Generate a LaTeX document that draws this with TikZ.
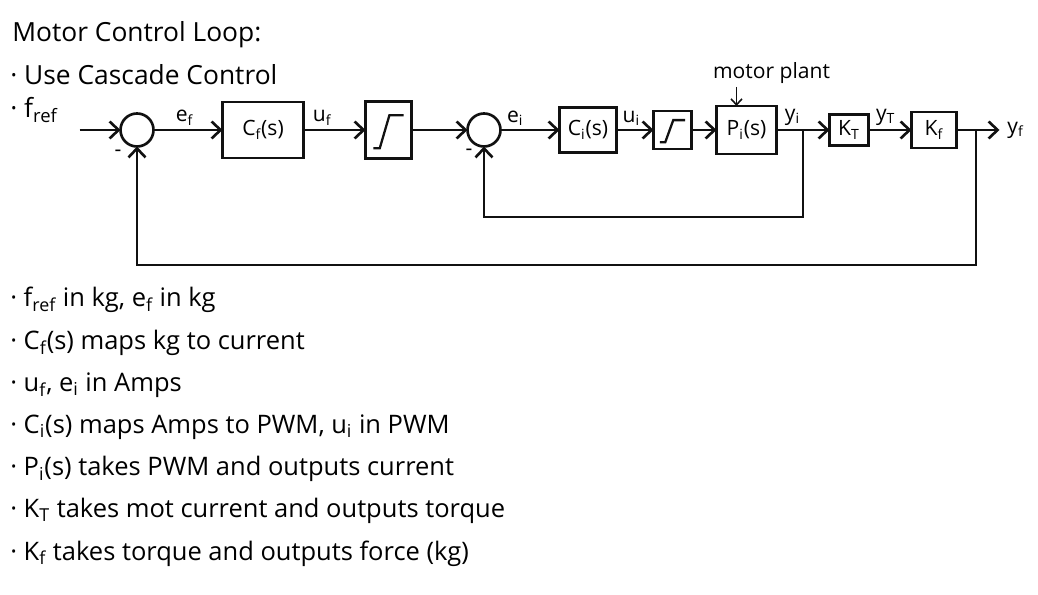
\documentclass[tikz,border=0pt]{standalone}
\usepackage{fontspec}
\setmainfont{Open Sans}
\usetikzlibrary{arrows.meta, positioning, calc}
\definecolor{InkBlack}{HTML}{111111}
\tikzset{
  block/.style={draw=InkBlack, line width=1.5pt, align=center, inner sep=2pt, outer sep=0pt, font=\fontsize{12}{14}\selectfont},
  sumnode/.style={draw=InkBlack, line width=1.5pt, circle, minimum size=0.66cm, inner sep=0pt, outer sep=0pt},
  glyph/.style={draw=InkBlack, line width=1.3pt},
  arrow/.style={-{Straight Barb[length=1.8mm, width=3.4mm]}, line width=1.5pt, draw=InkBlack},
  thinarrow/.style={-{Straight Barb[length=1.2mm, width=2.2mm]}, line width=0.9pt, draw=InkBlack},
  sig/.style={font=\fontsize{12}{14}\selectfont, inner sep=2pt},
  heading/.style={font=\fontsize{15}{18}\selectfont, anchor=west, inner sep=0pt},
  notes/.style={font=\fontsize{14.5}{24}\selectfont, align=left, anchor=base west, inner sep=0pt}
}
\newcommand{\satglyph}[1]{%
  \draw[glyph] let \p1=(#1.south west), \p2=(#1.north east), \n1={\x2-\x1}, \n2={\y2-\y1} in
    (\x1+0.17*\n1, \y1+0.18*\n2) -- (\x1+0.31*\n1, \y1+0.18*\n2) -- (\x1+0.52*\n1, \y1+0.76*\n2) -- (\x1+0.83*\n1, \y1+0.76*\n2);}

\begin{document}
\begin{tikzpicture}
\useasboundingbox (0,0) rectangle (20.76,-11.9);
\node[heading] (title) at (0.24,-0.7) {Motor Control Loop:};
\node[heading] (cascade) at (0.2,-1.5) {· Use Cascade Control};
\node[heading] (fref) at (0.2,-2.2) {· f\textsubscript{ref}};

\node[sumnode] (sumf) at (2.74,-2.6) {};
\node[block, right=1.38cm of sumf, minimum width=1.62cm, minimum height=1.12cm] (Cf) {C\textsubscript{f}(s)};
\node[block, right=1.24cm of Cf, minimum width=0.92cm, minimum height=1.14cm] (satf) {};
\node[sumnode, right=1.12cm of satf] (sumi) {};
\node[block, right=1.18cm of sumi, minimum width=1.14cm, minimum height=0.9cm] (Ci) {C\textsubscript{i}(s)};
\node[block, right=0.74cm of Ci, minimum width=0.76cm, minimum height=0.76cm] (sati) {};
\node[block, right=0.5cm of sati, minimum width=1.2cm, minimum height=0.96cm] (Pi) {P\textsubscript{i}(s)};
\node[block, right=1.06cm of Pi, minimum width=0.78cm, minimum height=0.62cm] (KT) {K\textsubscript{T}};
\node[block, right=0.86cm of KT, minimum width=0.9cm, minimum height=0.72cm] (Kf) {K\textsubscript{f}};
\satglyph{satf}
\satglyph{sati}

\node[sig, above=0.38cm of Pi, xshift=0.5cm] (plant) {motor plant};
\coordinate (plantin) at ([xshift=-0.2cm]Pi.north);
\draw[thinarrow] (plant.south -| plantin) -- (plantin);

\coordinate[left=0.82cm of sumf.west] (fin);
\coordinate[right=0.86cm of Kf.east] (yout);
\draw[arrow] (fin) -- (sumf);
\draw[arrow] (sumf) -- node[sig, above, pos=0.45] {e\textsubscript{f}} (Cf);
\draw[arrow] (Cf) -- node[sig, above, pos=0.3] {u\textsubscript{f}} (satf);
\draw[arrow] (satf) -- (sumi);
\draw[arrow] (sumi) -- node[sig, above, pos=0.25] {e\textsubscript{i}} (Ci);
\draw[arrow] (Ci) -- node[sig, above, pos=0.4] {u\textsubscript{i}} (sati);
\draw[arrow] (sati) -- (Pi);
\draw[arrow] (Pi) -- node[sig, above, pos=0.3] {y\textsubscript{i}} (KT);
\draw[arrow] (KT) -- node[sig, above, pos=0.4] {y\textsubscript{T}} (Kf);
\draw[arrow] (Kf) -- (yout);
\node[sig, right=0.08cm of yout] (yf) {y\textsubscript{f}};

\coordinate (tapi) at ($(Pi.east)!0.5!(KT.west)$);
\coordinate (tapf) at ($(Kf.east)!0.45!(yout)$);
\draw[arrow] (tapi) -- ++(0,-1.74) -| (sumi.south);
\draw[arrow] (tapf) -- ++(0,-2.7) -| (sumf.south);
\node[sig] (minusf) at ([shift={(-0.38,-0.46)}]sumf.center) {-};
\node[sig] (minusi) at ([shift={(-0.3,-0.44)}]sumi.center) {-};

\node[notes] (notes) at (0.2,-11.2) {· f\textsubscript{ref} in kg, e\textsubscript{f} in kg\\
· C\textsubscript{f}(s) maps kg to current\\
· u\textsubscript{f}, e\textsubscript{i} in Amps\\
· C\textsubscript{i}(s) maps Amps to PWM, u\textsubscript{i} in PWM\\
· P\textsubscript{i}(s) takes PWM and outputs current\\
· K\textsubscript{T} takes mot current and outputs torque\\
· K\textsubscript{f} takes torque and outputs force (kg)};
\end{tikzpicture}
\end{document}
